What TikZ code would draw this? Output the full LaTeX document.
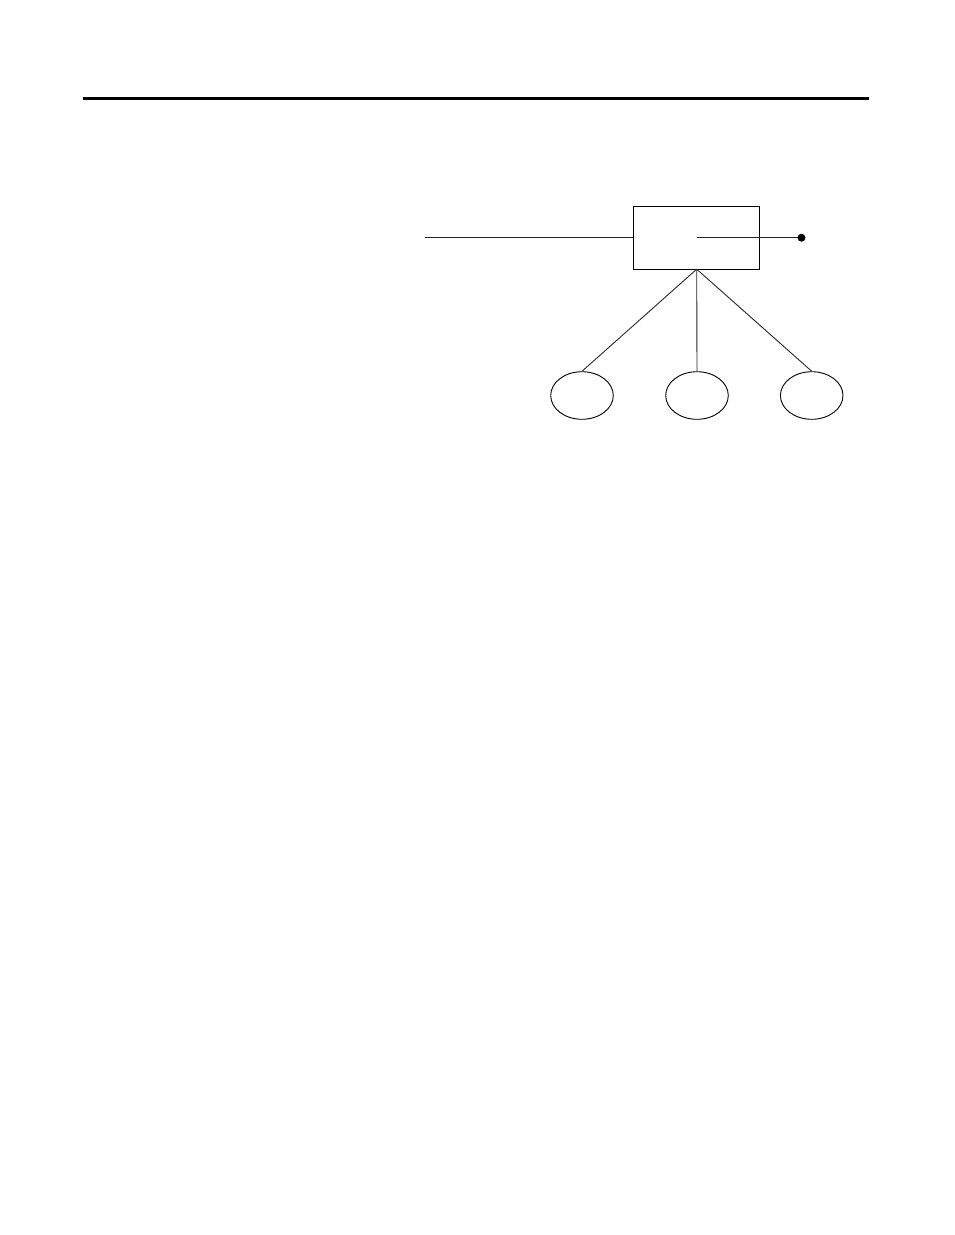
\documentclass[tikz,border=0pt]{standalone}
\usetikzlibrary{shapes.geometric}
\begin{document}
\begin{tikzpicture}[x=1pt,y=-1pt,
  thinline/.style={line width=0.9pt, black!85},
  boxnode/.style={draw, line width=1pt, minimum width=126pt, minimum height=63pt, inner sep=0pt},
  leaf/.style={draw, ellipse, line width=0.9pt, minimum width=62.6pt, minimum height=47.6pt, inner sep=0pt}]
\useasboundingbox (0,0) rectangle (954,1235);
\coordinate (r1) at (83,98.5);
\coordinate (r2) at (869,98.5);
\draw[line width=3pt] (r1) -- (r2);
\node[boxnode] (box) at (696.3,237.7) {};
\coordinate (lin) at (425,237.7);
\coordinate (inner) at (696.7,237.7);
\coordinate (dot) at (801.5,237.7);
\coordinate (bot) at (696.7,269.2);
\draw[thinline] (lin) -- (box.west);
\draw[thinline] (inner) -- (dot);
\fill (dot) circle (4pt);
\node[leaf] (e1) at (582,395.5) {};
\node[leaf] (e2) at (697,395.5) {};
\node[leaf] (e3) at (811.7,395.5) {};
\draw[thinline] (bot) -- (e1.north);
\draw[thinline] (bot) -- (e2.north);
\draw[thinline] (bot) -- (e3.north);
\end{tikzpicture}
\end{document}
